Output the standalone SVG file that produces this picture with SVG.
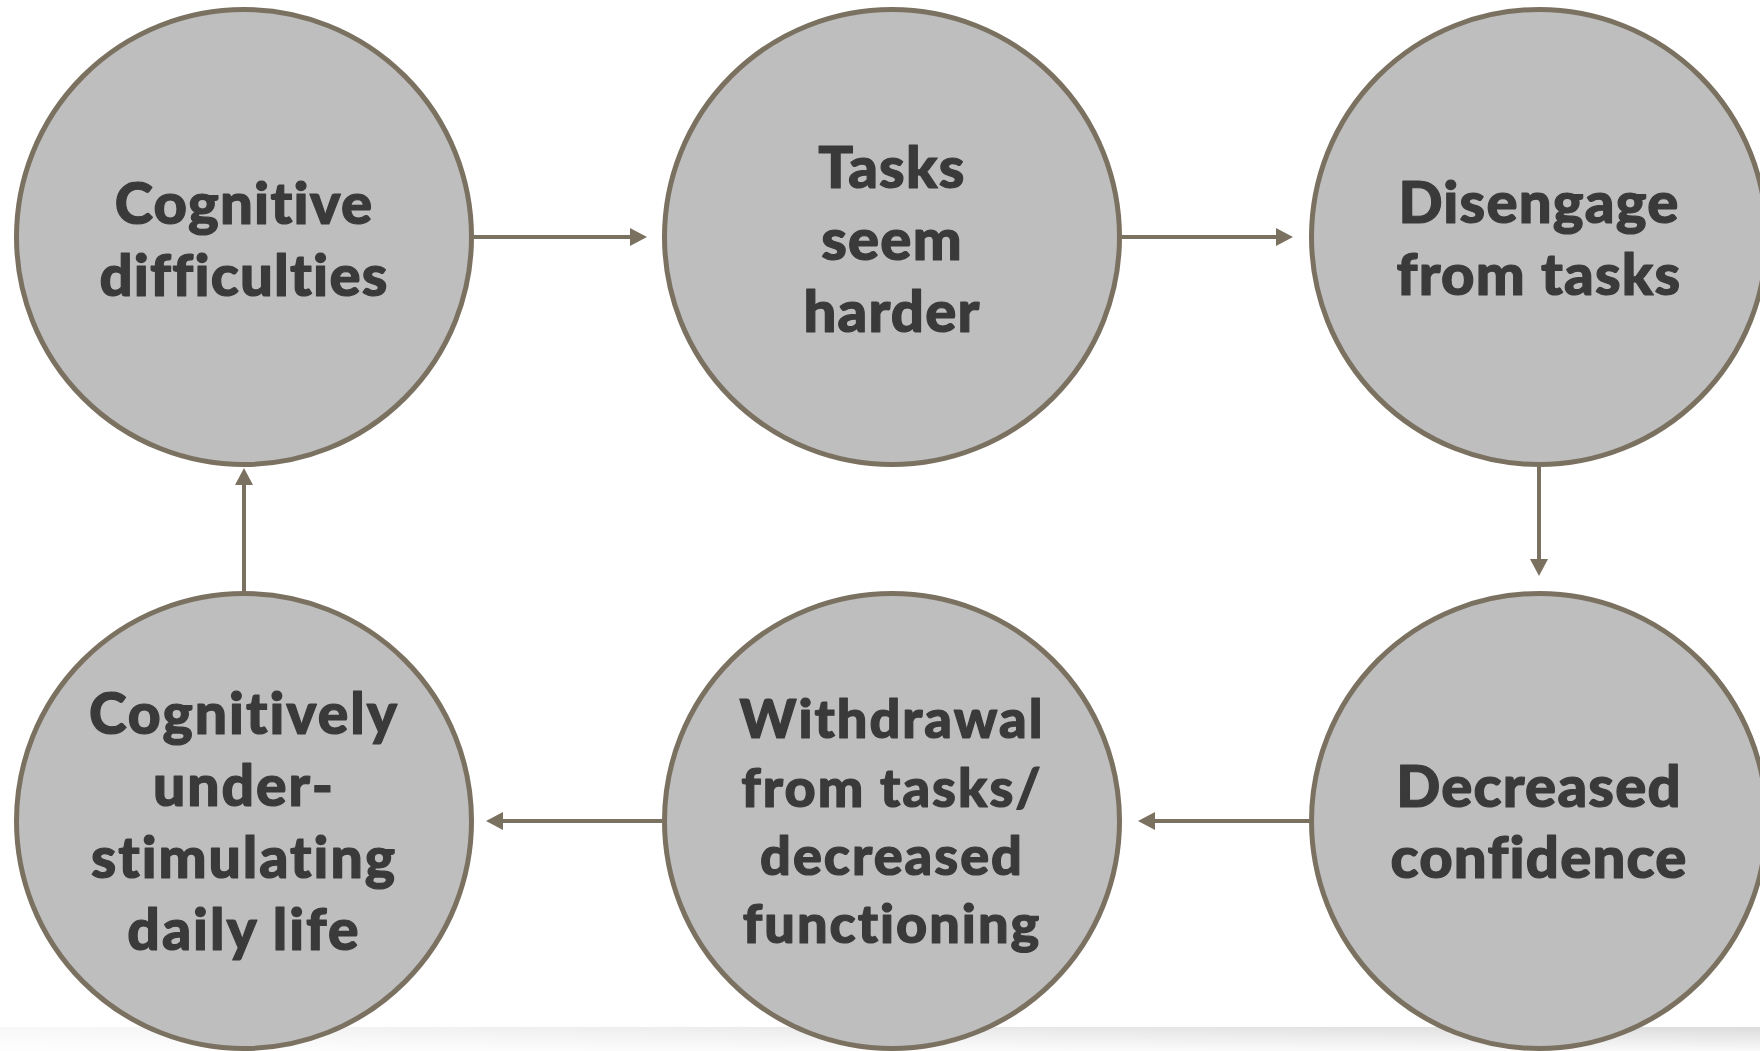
<svg xmlns="http://www.w3.org/2000/svg" width="1760" height="1051" viewBox="0 0 1760 1051">
  <style>
    .node circle { fill: #bebebe; stroke: #7b7161; stroke-width: 5; }
    .node text { font-family: "Lato", "Liberation Sans", sans-serif; font-weight: 900; fill: #3a3a3a; stroke: #3a3a3a; stroke-width: 1.2; stroke-linejoin: round; text-anchor: middle; font-variant-ligatures: none; letter-spacing: 1.2px; }
    .node text.wide { letter-spacing: 2px; }
    .link { stroke: #7b7161; stroke-width: 4; fill: none; marker-end: url(#head); }
  </style>
  <defs>
    <marker id="head" markerUnits="userSpaceOnUse" markerWidth="18" markerHeight="18" refX="0" refY="9" orient="auto">
      <path d="M0,0 L17,9 L0,18 z" fill="#7b7161"/>
    </marker>
    <linearGradient id="floorH" x1="0" y1="0" x2="1" y2="0">
      <stop offset="0" stop-color="#f8f8f8"/>
      <stop offset="1" stop-color="#dcdcdc"/>
    </linearGradient>
    <linearGradient id="floorV" x1="0" y1="0" x2="0" y2="1">
      <stop offset="0" stop-color="#ffffff" stop-opacity="0"/>
      <stop offset="1" stop-color="#ffffff" stop-opacity="0.85"/>
    </linearGradient>
  </defs>

  <rect x="0" y="0" width="1760" height="1051" fill="#ffffff"/>
  <!-- soft floor band along the bottom edge -->
  <rect x="0" y="1027" width="1760" height="24" fill="url(#floorH)"/>
  <rect x="0" y="1027" width="1760" height="24" fill="url(#floorV)"/>

  <g id="connectors">
    <line class="link" x1="474" y1="237" x2="630" y2="237"/>
    <line class="link" x1="1122" y1="237" x2="1276" y2="237"/>
    <line class="link" x1="1539" y1="467" x2="1539" y2="559"/>
    <line class="link" x1="1309" y1="821" x2="1155" y2="821"/>
    <line class="link" x1="662" y1="821" x2="503" y2="821"/>
    <line class="link" x1="244" y1="591" x2="244" y2="485"/>
  </g>

  <g id="node-cognitive-difficulties" class="node">
    <circle cx="244" cy="237" r="227.5"/>
    <text font-size="58"><tspan x="244" y="224">Cognitive</tspan><tspan x="244" y="296">difficulties</tspan></text>
  </g>

  <g id="node-tasks-seem-harder" class="node">
    <circle cx="892" cy="237" r="227.5"/>
    <text font-size="58"><tspan x="892" y="188">Tasks</tspan><tspan x="892" y="260">seem</tspan><tspan x="892" y="332">harder</tspan></text>
  </g>

  <g id="node-disengage" class="node">
    <circle cx="1539" cy="237" r="227.5"/>
    <text font-size="58"><tspan x="1539" y="223">Disengage</tspan><tspan x="1539" y="295">from tasks</tspan></text>
  </g>

  <g id="node-decreased-confidence" class="node">
    <circle cx="1539" cy="821" r="227.5"/>
    <text font-size="58"><tspan x="1539" y="807">Decreased</tspan><tspan x="1539" y="878">confidence</tspan></text>
  </g>

  <g id="node-withdrawal" class="node">
    <circle cx="892" cy="821" r="227.5"/>
    <text class="wide" font-size="54"><tspan x="892" y="738">Withdrawal</tspan><tspan x="892" y="807">from tasks/</tspan><tspan x="892" y="875">decreased</tspan><tspan x="892" y="943">functioning</tspan></text>
  </g>

  <g id="node-understimulating" class="node">
    <circle cx="244" cy="821" r="227.5"/>
    <text class="wide" font-size="57"><tspan x="244" y="734">Cognitively</tspan><tspan x="244" y="806">under-</tspan><tspan x="244" y="878">stimulating</tspan><tspan x="244" y="950">daily life</tspan></text>
  </g>
</svg>
